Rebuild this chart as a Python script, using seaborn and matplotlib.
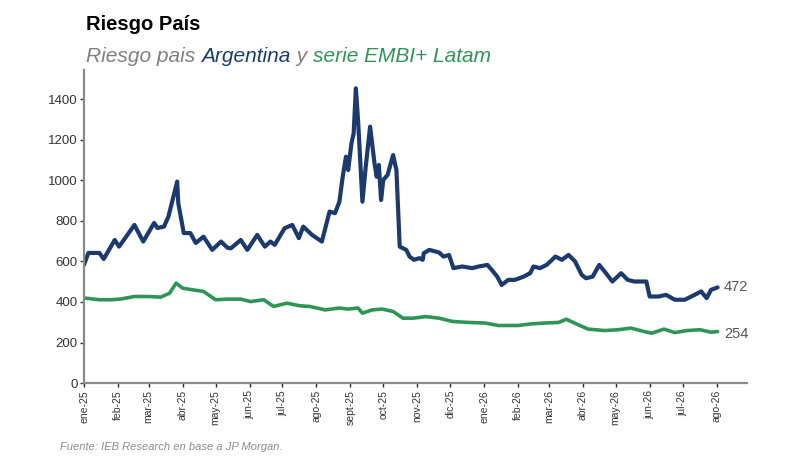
import pandas as pd
import matplotlib.pyplot as plt
import seaborn as sns

# Riesgo pais Argentina (pb)
arg_dates = ["2025-01-01", "2025-01-05", "2025-01-15", "2025-01-19", "2025-01-29", "2025-02-02",
             "2025-02-16", "2025-02-24", "2025-03-06", "2025-03-09", "2025-03-15", "2025-03-19",
             "2025-03-27", "2025-03-28", "2025-04-02", "2025-04-08", "2025-04-13", "2025-04-20",
             "2025-04-28", "2025-05-06", "2025-05-12", "2025-05-15", "2025-05-24", "2025-05-30",
             "2025-06-08", "2025-06-15", "2025-06-20", "2025-06-24", "2025-07-03", "2025-07-10",
             "2025-07-16", "2025-07-20", "2025-07-28", "2025-08-06", "2025-08-13", "2025-08-18",
             "2025-08-22", "2025-08-25", "2025-08-28", "2025-08-30", "2025-09-02", "2025-09-04",
             "2025-09-06", "2025-09-08", "2025-09-12", "2025-09-15", "2025-09-19", "2025-09-23",
             "2025-09-25", "2025-09-27", "2025-09-29", "2025-10-01", "2025-10-05", "2025-10-07",
             "2025-10-10", "2025-10-13", "2025-10-16", "2025-10-22", "2025-10-25", "2025-10-29",
             "2025-11-03", "2025-11-06", "2025-11-07", "2025-11-12", "2025-11-21", "2025-11-25",
             "2025-11-30", "2025-12-04", "2025-12-12", "2025-12-21", "2025-12-27", "2026-01-04",
             "2026-01-08", "2026-01-13", "2026-01-17", "2026-01-23", "2026-01-29", "2026-02-06",
             "2026-02-12", "2026-02-15", "2026-02-21", "2026-02-27", "2026-03-04", "2026-03-07",
             "2026-03-13", "2026-03-19", "2026-03-25", "2026-03-31", "2026-04-04", "2026-04-10",
             "2026-04-16", "2026-04-21", "2026-04-28", "2026-05-06", "2026-05-12", "2026-05-18",
             "2026-05-29", "2026-06-01", "2026-06-09", "2026-06-16", "2026-06-24", "2026-07-03",
             "2026-07-12", "2026-07-18", "2026-07-23", "2026-07-27", "2026-08-02"]
arg_values = [583, 642, 642, 612, 706, 673,
              780, 698, 790, 765, 772, 821,
              994, 888, 740, 740, 691, 722,
              657, 698, 667, 665, 706, 657,
              731, 673, 698, 682, 764, 780,
              715, 772, 731, 698, 846, 838,
              895, 1018, 1117, 1051, 1183, 1232,
              1454, 1298, 895, 1067, 1265, 1084,
              1018, 1076, 903, 1002, 1027, 1067,
              1125, 1051, 673, 657, 624, 608,
              616, 608, 641, 657, 644, 624,
              632, 567, 575, 567, 575, 583,
              558, 525, 484, 509, 509, 525,
              542, 575, 567, 583, 608, 624,
              608, 632, 600, 534, 517, 525,
              583, 550, 501, 542, 509, 501,
              501, 427, 427, 435, 411, 411,
              435, 452, 419, 460, 472]

# EMBI+ Latam (pb)
embi_dates = ["2025-01-02", "2025-01-15", "2025-01-26", "2025-02-04", "2025-02-16", "2025-02-28",
              "2025-03-12", "2025-03-20", "2025-03-26", "2025-04-01", "2025-04-10", "2025-04-20",
              "2025-05-01", "2025-05-12", "2025-05-24", "2025-06-02", "2025-06-14", "2025-06-23",
              "2025-07-05", "2025-07-17", "2025-07-26", "2025-08-09", "2025-08-22", "2025-08-30",
              "2025-09-08", "2025-09-12", "2025-09-21", "2025-09-30", "2025-10-10", "2025-10-19",
              "2025-10-28", "2025-11-09", "2025-11-21", "2025-12-03", "2025-12-18", "2026-01-02",
              "2026-01-14", "2026-02-01", "2026-02-13", "2026-02-25", "2026-03-10", "2026-03-17",
              "2026-03-28", "2026-04-06", "2026-04-21", "2026-05-03", "2026-05-15", "2026-05-27",
              "2026-06-03", "2026-06-14", "2026-06-24", "2026-07-05", "2026-07-17", "2026-07-27",
              "2026-08-02"]
embi_values = [419, 411, 411, 415, 427, 427,
               424, 443, 493, 468, 460, 452,
               411, 414, 414, 402, 411, 378,
               394, 381, 378, 361, 370, 365,
               370, 345, 361, 365, 353, 320,
               320, 328, 320, 304, 299, 296,
               284, 284, 292, 296, 299, 315,
               287, 266, 259, 263, 271, 254,
               246, 266, 249, 259, 263, 251,
               254]

month_ticks = pd.date_range("2025-01-01", "2026-08-01", freq="MS")
month_names = ["ene", "feb", "mar", "abr", "may", "jun", "jul", "ago",
               "sept", "oct", "nov", "dic"]
tick_labels = [f"{month_names[d.month - 1]}-{str(d.year)[2:]}" for d in month_ticks]

arg = pd.DataFrame({"fecha": pd.to_datetime(arg_dates), "pb": arg_values})
embi = pd.DataFrame({"fecha": pd.to_datetime(embi_dates), "pb": embi_values})

NAVY = "#1d3a6f"
GREEN = "#2f9556"
GREY = "#7f7f7f"

sns.set_style("white")
plt.rcParams["font.family"] = ["Liberation Sans", "DejaVu Sans"]

fig = plt.figure(figsize=(8, 4.66), dpi=100)
ax = fig.add_axes([0.105, 0.178, 0.829, 0.672])

sns.lineplot(data=embi, x="fecha", y="pb", ax=ax, color=GREEN, linewidth=2.6)
sns.lineplot(data=arg, x="fecha", y="pb", ax=ax, color=NAVY, linewidth=3.0)

ax.set_xlim(pd.Timestamp("2025-01-01"), pd.Timestamp("2026-08-29"))
ax.set_ylim(0, 1545)
ax.set_yticks(range(0, 1401, 200))
ax.set_xticks(month_ticks)
ax.set_xticklabels(tick_labels, rotation=90, fontsize=7.5, color="#333333")
ax.tick_params(axis="y", labelsize=9.5, colors="#333333", length=3, width=1,
               direction="out", left=True, pad=1.5)
ax.tick_params(axis="x", length=3, width=1, direction="out", bottom=True, pad=2)
ax.set_xlabel("")
ax.set_ylabel("")

sns.despine(ax=ax)
for side in ["left", "bottom"]:
    ax.spines[side].set_color("#8a8a8a")
    ax.spines[side].set_linewidth(1.6)

# last values
ax.annotate(str(arg_values[-1]), xy=(arg["fecha"].iloc[-1], arg_values[-1]),
            xytext=(4, 0), textcoords="offset points", va="center",
            fontsize=10.5, color="#555555")
ax.annotate(str(embi_values[-1]), xy=(embi["fecha"].iloc[-1], embi_values[-1]),
            xytext=(5, -2), textcoords="offset points", va="center",
            fontsize=10.5, color="#555555")

# titles
fig.text(0.108, 0.935, "Riesgo País", fontsize=14.5, fontweight="bold",
         color="black", va="baseline")
parts = [("Riesgo pais ", GREY), ("Argentina", NAVY), (" y ", GREY),
         ("serie EMBI+ Latam", GREEN)]
fig.canvas.draw()
renderer = fig.canvas.get_renderer()
x0 = 0.108
for txt, col in parts:
    t = fig.text(x0, 0.868, txt, fontsize=15, fontstyle="italic", color=col,
                 va="baseline")
    bb = t.get_window_extent(renderer=renderer)
    x0 += bb.width / fig.bbox.width

fig.text(0.075, 0.035, "Fuente: IEB Research en base a JP Morgan.", fontsize=8,
         fontstyle="italic", color="#8c8c8c")

fig.savefig("out.png", dpi=100)
